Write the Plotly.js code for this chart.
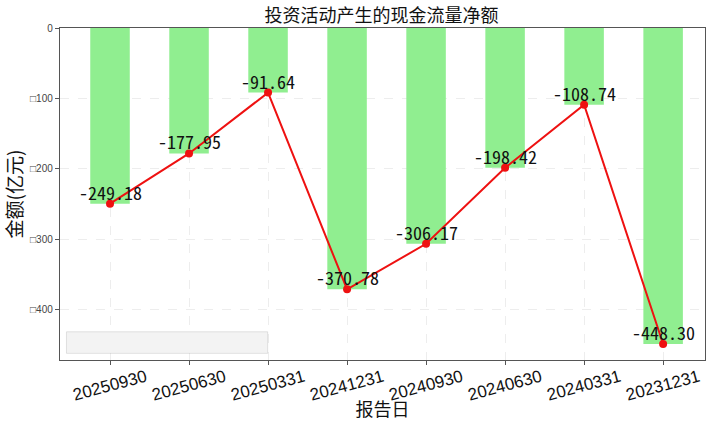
<!DOCTYPE html>
<html>
<head>
<meta charset="utf-8">
<script src="https://cdn.plot.ly/plotly-3.0.1.min.js"></script>
<style>html,body{margin:0;padding:0;background:#fff;}#chart{width:720px;height:428px;}</style>
</head>
<body>
<div id="chart"></div>
<script>
const categories = ["20250930","20250630","20250331","20241231","20240930","20240630","20240331","20231231"];
const values = [-249.18, -177.95, -91.64, -370.78, -306.17, -198.42, -108.74, -448.30];
const yTickVals = [0, -100, -200, -300, -400];
const yTickText = ["0", "\u25A1100", "\u25A1200", "\u25A1300", "\u25A1400"];

const labels = values.map(v => v.toFixed(2));

const bar = {
  type: 'bar', x: categories, y: values, width: 0.5,
  marker: {color: '#90EE90'}, hoverinfo: 'skip', showlegend: false
};
const line = {
  type: 'scatter', mode: 'lines+markers', x: categories, y: values,
  line: {color: '#EE1111', width: 2}, marker: {color: '#EE1111', size: 8},
  showlegend: false, cliponaxis: false
};

// category axis: annotations are placed by category index
const labelAnn = categories.map((c, i) => ({
  x: i, y: values[i], xref: 'x', yref: 'y', text: labels[i], showarrow: false,
  xanchor: 'center', yanchor: 'bottom', yshift: -3,
  font: {family: '"Noto Sans Mono CJK SC", "DejaVu Sans Mono", monospace', size: 18, color: '#111'}
}));
const tickAnn = categories.map((c, i) => ({
  x: i, y: 0, xref: 'x', yref: 'paper', text: c, showarrow: false,
  xanchor: 'center', yanchor: 'middle', yshift: -25, textangle: -15,
  font: {family: '"Liberation Sans", Arial, sans-serif', size: 17, color: '#111'}
}));

const layout = {
  width: 720, height: 428,
  margin: {l: 60, r: 15, t: 28, b: 68},
  paper_bgcolor: '#fff', plot_bgcolor: '#fff',
  title: {text: '投资活动产生的现金流量净额', x: 0.53, xanchor: 'center', yref: 'container', y: 0.963, yanchor: 'middle',
    font: {family: '"Noto Sans CJK SC", sans-serif', size: 18, color: '#111'}},
  xaxis: {
    type: 'category', range: [-0.633, 7.53], showticklabels: false,
    ticks: 'outside', ticklen: 4, tickcolor: '#555',
    showline: true, linecolor: '#555', linewidth: 1.2, mirror: true,
    showgrid: true, gridcolor: 'rgba(0,0,0,0.07)', griddash: 'dash',
    title: {text: '报告日', standoff: 39, font: {family: '"Noto Sans CJK SC", sans-serif', size: 18, color: '#111'}}
  },
  yaxis: {
    range: [-471, 0], tickvals: yTickVals, ticktext: yTickText,
    tickfont: {family: '"Liberation Sans", Arial, sans-serif', size: 10, color: '#444'},
    ticks: 'outside', ticklen: 4, tickcolor: '#555',
    showline: true, linecolor: '#555', linewidth: 1.2, mirror: true,
    showgrid: true, gridcolor: 'rgba(0,0,0,0.07)', griddash: 'dash', zeroline: false,
    title: {text: '金额(亿元)', standoff: 8, font: {family: '"Noto Sans CJK SC", sans-serif', size: 19, color: '#111'}}
  },
  annotations: labelAnn.concat(tickAnn),
  shapes: [{
    type: 'rect', xref: 'paper', yref: 'paper',
    x0: 0.01, x1: 0.322, y0: 0.02, y1: 0.085,
    line: {color: 'rgba(0,0,0,0.1)', width: 1},
    fillcolor: 'rgba(243,243,243,1)', layer: 'above'
  }]
};

Plotly.newPlot('chart', [bar, line], layout, {displayModeBar: false, staticPlot: true});
</script>
</body>
</html>
